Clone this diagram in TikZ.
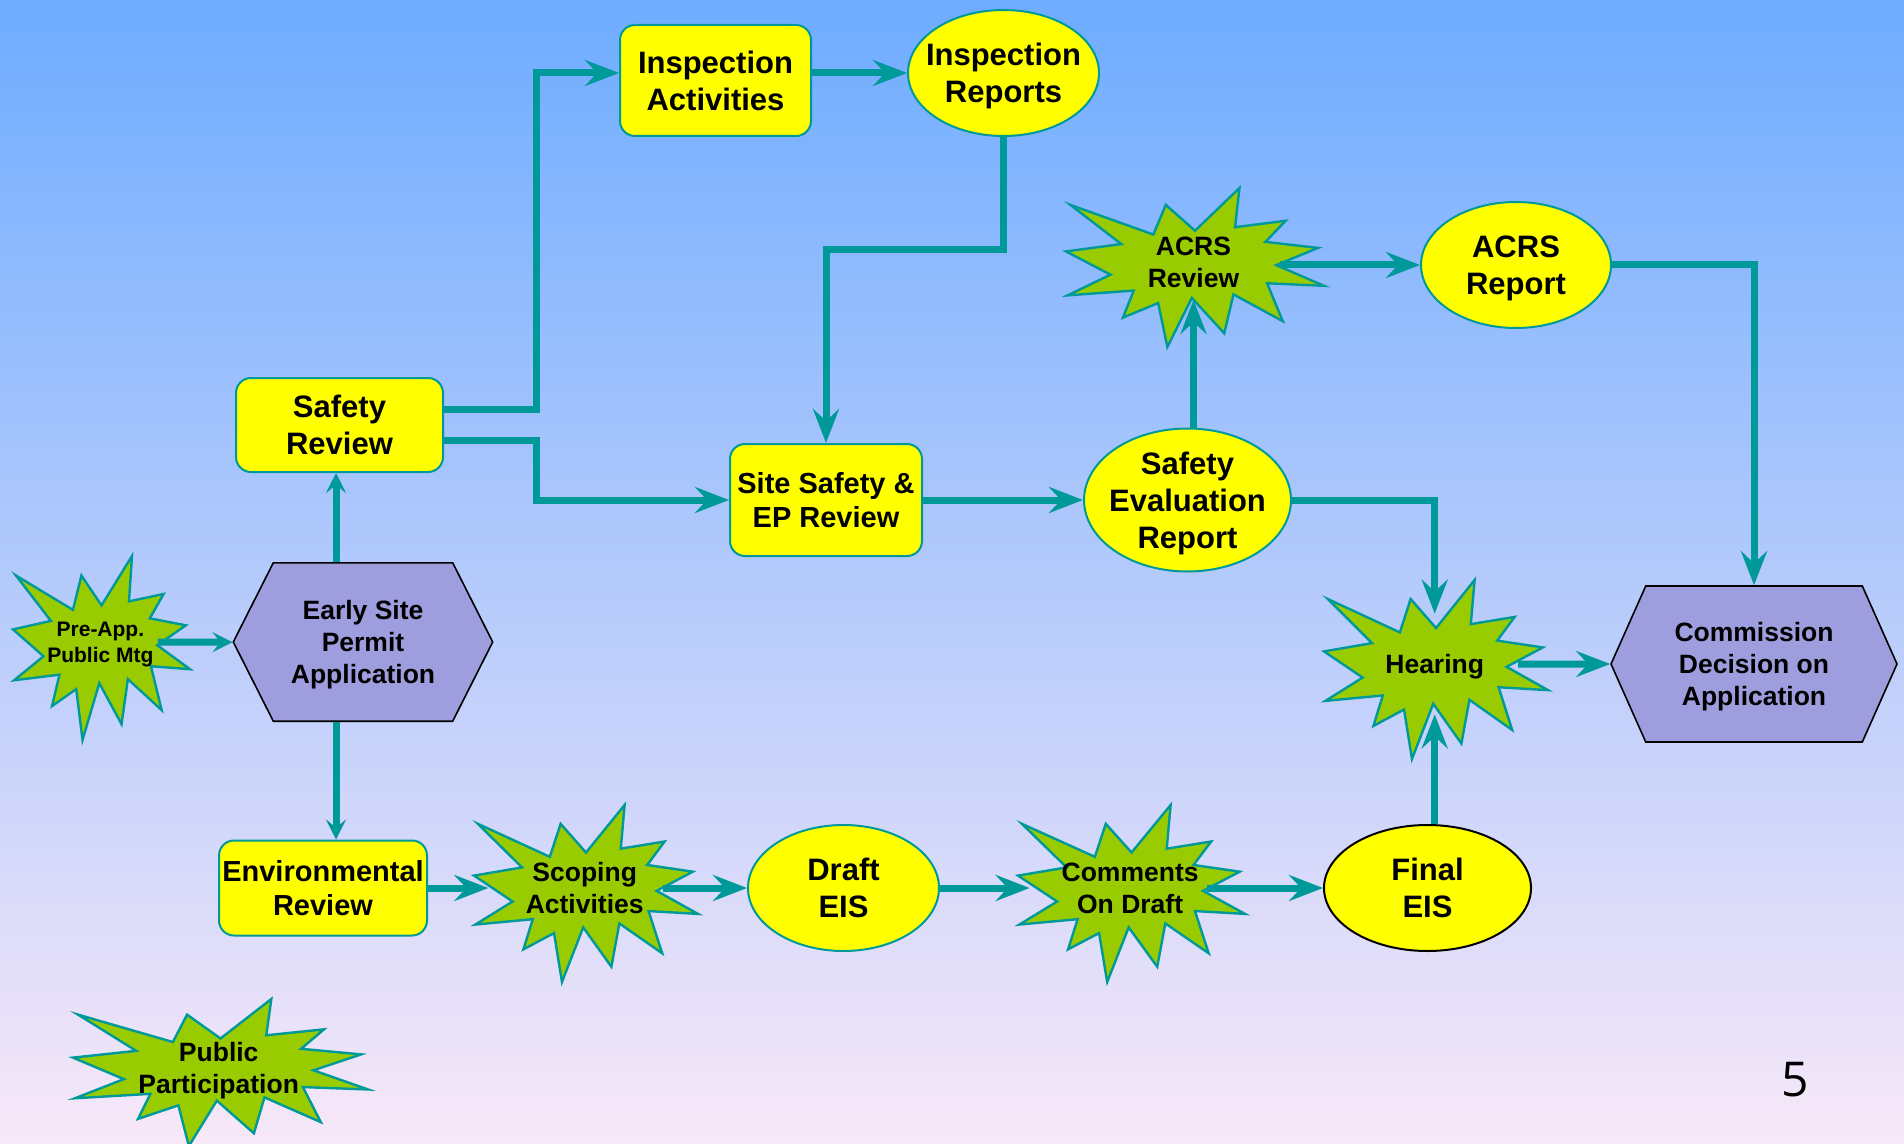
\documentclass[tikz,border=0pt]{standalone}
\usepackage{fontspec}
\setmainfont{Liberation Sans}
\newfontfamily\pagefont{Open Sans}
\usepackage{tkz-euclide}
\usetikzlibrary{arrows.meta,shapes.geometric,shapes.symbols}

\definecolor{sea}{RGB}{0,153,153}
\definecolor{lemon}{RGB}{255,255,0}
\definecolor{leaf}{RGB}{153,204,0}
\definecolor{lilac}{RGB}{158,158,222}
\definecolor{skytop}{RGB}{110,172,255}
\definecolor{skymid}{RGB}{172,204,242}
\definecolor{blush}{RGB}{248,232,248}

\newcommand{\boom}[4]{%
  \filldraw[blast, shift={(#1,#2)}, xscale=#3/100, yscale=#4/100]
    (50,26.85) -- (67.23,0) -- (65.53,24.65) -- (85.09,20.63) -- (77.32,33.87)
    -- (97.67,37.67) -- (81.51,48.5) -- (100,61.53) -- (77.95,59.92)
    -- (84,83.77) -- (64.91,66.93) -- (61.33,91.38) -- (48.76,69.14)
    -- (39.28,100) -- (35.72,72.35) -- (22.05,81.56) -- (26.24,64.52)
    -- (0.63,67.53) -- (17.23,54.51) -- (0,39.88) -- (21.42,35.26)
    -- (1.71,10.63) -- (33.85,29.26) -- (38.67,10.63) -- cycle;}

\begin{document}
\begin{tikzpicture}[x=0.5pt, y=-0.5pt,
    flow/.style={draw=sea, line width=3.5pt, -{Stealth[length=17pt, width=13pt, inset=6pt]}},
    stub/.style={-{Stealth[length=10pt, width=10pt, inset=4pt]}},
    card/.style={rectangle, rounded corners=7.5pt, fill=lemon, draw=sea, line width=1pt, align=center, inner sep=0pt, text depth=0pt},
    oval/.style={ellipse, fill=lemon, draw=sea, line width=1pt, align=center, inner sep=-8pt, text depth=0pt},
    hexa/.style={signal, signal to=west and east, fill=lilac, draw=black, line width=0.8pt, align=center, inner sep=0pt, text depth=0pt},
    blast/.style={fill=leaf, draw=sea, line width=1.2pt},
    burst/.style={align=center, inner sep=0pt, text depth=0pt},
    bigtxt/.style={font=\bfseries\fontsize{15.5}{18.6}\selectfont},
    midtxt/.style={font=\bfseries\fontsize{14.5}{17.4}\selectfont},
    smalltxt/.style={font=\bfseries\fontsize{13.25}{16}\selectfont}]
    \useasboundingbox (0,0) rectangle (1904,1144);
    \shade[top color=skytop, middle color=skymid, bottom color=blush] (0,0) rectangle (1904,1144);
    \tkzDefPoints{715.5/80.5/A,1003.5/73/B,1193.5/262.6/C,1516/265/D,339.5/425/E,826/500/F,1187.5/500/G,100.4/642.3/H,363/642/I,1434.7/664/J,1754/664/K,323/888/L,584.7/888/M,843.5/888/N,1130.1/888/O,1427.5/888/P,218.7/1067.9/Q}
    \boom{13}{556}{177}{184}
    \boom{1066}{188}{258}{159}
    \boom{1324}{580}{224}{179}
    \boom{474}{805}{224}{177}
    \boom{1018}{805}{227}{177}
    \boom{73}{999}{295}{147}
    \node[card, bigtxt, minimum width=95.5pt, minimum height=55.5pt] (IA) at (A) {Inspection\\Activities};
    \node[oval, bigtxt, minimum width=95.5pt, minimum height=63pt] (IR) at (B) {Inspection\\Reports};
    \node[burst, smalltxt, minimum width=86pt, minimum height=37pt] (AR) at (C) {ACRS\\Review};
    \node[oval, bigtxt, minimum width=95pt, minimum height=63pt] (AP) at (D) {ACRS\\Report};
    \node[card, bigtxt, minimum width=103.5pt, minimum height=47pt] (SR) at (E) {Safety\\Review};
    \node[card, midtxt, minimum width=96pt, minimum height=56pt] (SS) at (F) {Site Safety \&\\EP Review};
    \node[oval, bigtxt, minimum width=103.5pt, minimum height=71.5pt] (SE) at (G) {Safety\\Evaluation\\Report};
    \node[burst, font=\bfseries\fontsize{10.5}{12.6}\selectfont, minimum width=57pt] (PA) at (H) {Pre-App.\\Public Mtg};
    \node[hexa, smalltxt, minimum width=129.7pt, minimum height=79.2pt, signal pointer angle=126.4] (ES) at (I) {Early Site\\Permit\\Application};
    \node[burst, smalltxt, minimum width=83pt, minimum height=50pt] (HE) at (J) {Hearing};
    \node[hexa, smalltxt, minimum width=143pt, minimum height=78pt, signal pointer angle=132] (CD) at (K) {Commission\\Decision on\\Application};
    \node[card, midtxt, minimum width=104pt, minimum height=47.5pt] (ER) at (L) {Environmental\\Review};
    \node[burst, smalltxt, minimum width=96pt] (SC) at (M) {Scoping\\Activities};
    \node[oval, bigtxt, minimum width=95.5pt, minimum height=63pt] (DE) at (N) {Draft\\EIS};
    \node[burst, smalltxt, minimum width=100pt] (CO) at (O) {Comments\\On Draft};
    \node[oval, bigtxt, draw=black, minimum width=103.5pt, minimum height=63pt] (FE) at (P) {Final\\EIS};
    \node[burst, smalltxt] (PP) at (Q) {Public\\Participation};
    \node[font=\pagefont\fontsize{24}{28}\selectfont] (NR) at (1795,1080) {5};
    \draw[flow, stub] (PA) -- (ES);
    \draw[flow, stub] ([xshift=-1.75pt]SR.south |- ES.north) -- ([xshift=-1.75pt]SR.south);
    \draw[flow, stub] ([xshift=-1.75pt]SR.south |- ES.south) -- ([xshift=-1.75pt]SR.south |- ER.north);
    \draw[flow] ([yshift=8pt]SR.east) -- ++(92.5,0) |- (IA.west |- IR);
    \draw[flow] ([yshift=-7.5pt]SR.east) -- ++(92.5,0) |- (SS);
    \draw[flow] (IA.east |- IR) -- (IR);
    \draw[flow] (IR.south) -- ++(0,113) -| (SS);
    \draw[flow] (SS) -- (SE);
    \draw[flow] (SE.north -| AR) -- (AR);
    \draw[flow] (AR.east |- AP) -- (AP);
    \draw[flow] (AP) -| (CD);
    \draw[flow] (SE) -| (HE);
    \draw[flow] (HE) -- (CD);
    \draw[flow] (FE.north -| HE) -- (HE);
    \draw[flow] (ER) -- (SC);
    \draw[flow] ([xshift=-9pt]SC.east) -- (DE);
    \draw[flow] (DE) -- (CO);
    \draw[flow] ([xshift=-12pt]CO.east) -- (FE);
\end{tikzpicture}
\end{document}
